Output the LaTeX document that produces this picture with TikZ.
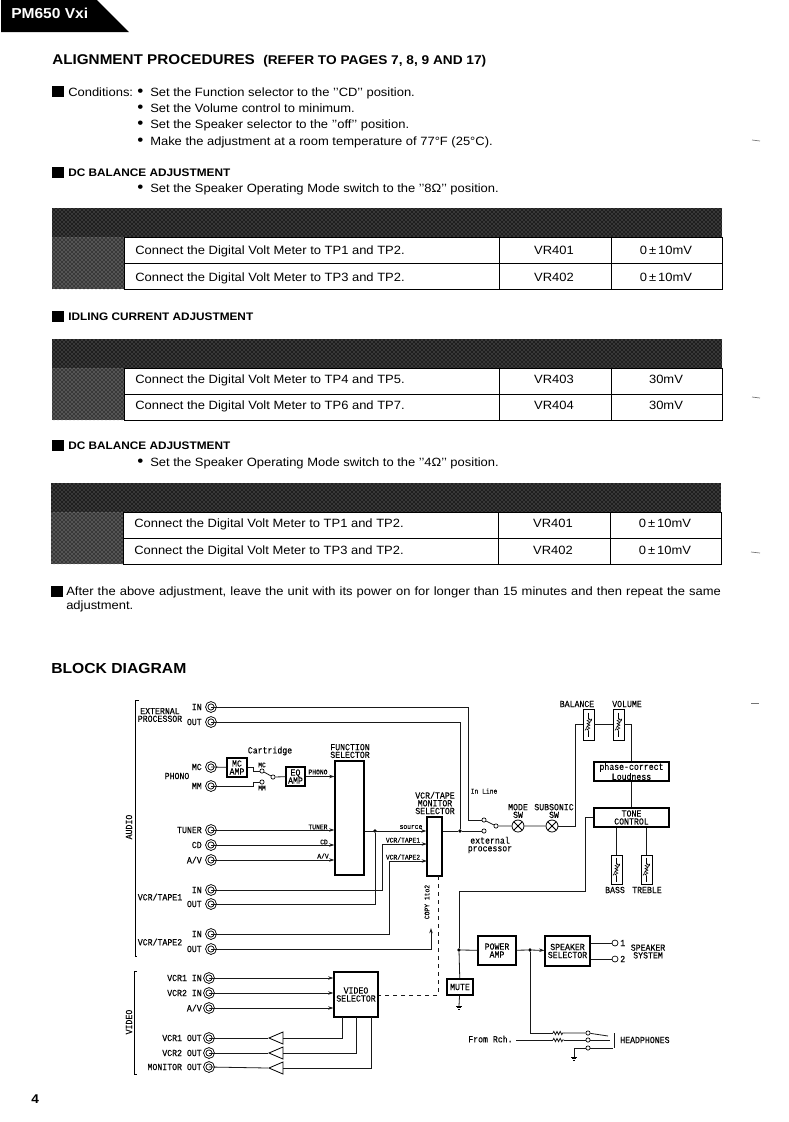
\documentclass[tikz,border=0pt]{standalone}
\usepackage{fontspec}
\setmainfont[FakeStretch=1.08]{Liberation Sans}
\setmonofont[FakeStretch=0.88, FakeBold=0.25]{Liberation Mono}
\usetikzlibrary{arrows.meta}
\usetikzlibrary{patterns}
\usetikzlibrary{shapes.geometric}
\usetikzlibrary{decorations.pathmorphing}
\tikzset{>={Stealth[length=4pt,width=2.6pt]}}
\tikzset{sized/.style 2 args={minimum width=#1*0.75pt, minimum height=#2*0.75pt, inner sep=0pt}}
\tikzset{blockbox/.style={draw, line width=0.8pt, font=\ttfamily\fontsize{7}{6}\selectfont, align=center}}
\tikzset{potbox/.style={draw, line width=0.6pt}}
\tikzset{jack/.style={circle, draw, double, double distance=0.9pt, line width=0.65pt, minimum size=6.4pt, inner sep=0pt}}
\tikzset{contact/.style={circle, draw, fill=white, line width=0.5pt, minimum size=3.2pt, inner sep=0pt}}
\tikzset{joint/.style={circle, fill, minimum size=2.8pt, inner sep=0pt}}
\tikzset{lampsw/.style={circle, draw, line width=0.6pt, minimum size=9pt, inner sep=0pt, path picture={
    \draw (path picture bounding box.south west) -- (path picture bounding box.north east)
          (path picture bounding box.north west) -- (path picture bounding box.south east);}}}
\tikzset{buffer/.style={isosceles triangle, draw, line width=0.6pt, shape border rotate=180, isosceles triangle stretches,
    minimum height=10.5pt, minimum width=9pt, inner sep=0pt}}
\tikzset{lbl/.style={font=\ttfamily\fontsize{7}{5.8}\selectfont, align=center, inner sep=0pt}}
\tikzset{tinylbl/.style={font=\ttfamily\fontsize{5.4}{5}\selectfont, inner sep=0pt}}
\tikzset{bodytext/.style={anchor=west, inner sep=0pt, text height=6.2pt, text depth=0pt, font=\fontsize{9}{11}\selectfont}}
\tikzset{subhead/.style={anchor=west, inner sep=0pt, text height=6pt, text depth=0pt, font=\bfseries\fontsize{8.2}{10}\selectfont}}
\tikzset{bighead/.style={anchor=west, inner sep=0pt, text height=8pt, text depth=0pt, font=\bfseries\fontsize{10.6}{13}\selectfont}}
\tikzset{cellnum/.style={inner sep=0pt, text height=6.2pt, text depth=0pt, font=\fontsize{9}{11}\selectfont}}
\tikzset{wire/.style={line width=0.6pt, black!90}}
\tikzset{scanmark/.style={line width=0.5pt, black!55}}
\newcommand{\dotitem}{\makebox[9.75pt][l]{\fontsize{12}{10}\selectfont\raisebox{-0.5pt}{\textbullet}}}
\newcommand{\potmark}[1]{
    \begin{scope}[shift={(#1.center)}, line width=0.4pt]
        \draw (0,-12) -- (0,-6) (0,6) -- (0,12);
        \draw[decorate, decoration={zigzag, amplitude=1.1pt, segment length=2.2pt}] (0,-6) -- (0,6);
        \draw[->, >={Stealth[length=2pt,width=1.6pt]}] (-3.5,6) -- (3.5,-6);
    \end{scope}}
\newcommand{\earthmark}[1]{
    \begin{scope}[shift={(#1)}, line width=0.5pt]
        \draw (-3,0) -- (3,0) (-2,1.5) -- (2,1.5) (-1,3) -- (1,3);
    \end{scope}}
\newcommand{\adjgrid}[2]{
    \begin{scope}[shift={(#1,#2)}]
        \fill[black!88] (52,0) rectangle (722,29);
        \fill[black!78] (52,29) rectangle (124,81);
        \fill[pattern=crosshatch dots, pattern color=black!45] (52,0) rectangle (722,29);
        \fill[pattern=crosshatch dots, pattern color=black!30] (52,29) rectangle (124,81);
        \draw[line width=0.5pt] (124,29) rectangle (722,81) (124,55) -- (722,55) (499,29) -- (499,81) (611,29) -- (611,81);
    \end{scope}}

\begin{document}
\begin{tikzpicture}[x=0.75pt, y=-0.75pt]
    \useasboundingbox (0,0) rectangle (789,1122);

    \fill (1,0) -- (97,0) -- (129,32) -- (1,32) -- cycle;
    \node[anchor=west, inner sep=0pt, text=white, font=\bfseries\fontsize{10.8}{12}\selectfont] at (11,13) (tab) {PM650 Vxi};
    \node[bighead] at (52,59) (title) {ALIGNMENT PROCEDURES};
    \node[subhead, font=\bfseries\fontsize{9.5}{10}\selectfont] at (263,60) (titleref) {(REFER TO PAGES 7, 8, 9 AND 17)};

    \fill (52,86) rectangle (64,97);
    \node[bodytext] at (68,92) (cond) {Conditions:};
    \node[bodytext] at (137,92) (condA) {\dotitem Set the Function selector to the '{}'CD'{}' position.};
    \node[bodytext] at (137,108) (condB) {\dotitem Set the Volume control to minimum.};
    \node[bodytext] at (137,124) (condC) {\dotitem Set the Speaker selector to the '{}'off'{}' position.};
    \node[bodytext] at (137,141) (condD) {\dotitem Make the adjustment at a room temperature of 77°F (25°C).};

    \fill (52,167) rectangle (64,178);
    \node[subhead] at (68,172) (headA) {DC BALANCE ADJUSTMENT};
    \node[bodytext] at (137,188) (modeA) {\dotitem Set the Speaker Operating Mode switch to the '{}'8Ω'{}' position.};

    \adjgrid{0}{208}
    \node[bodytext] at (135,250) (rowA) {Connect the Digital Volt Meter to TP1 and TP2.};
    \node[cellnum] at (554,250) (vrA) {VR401};
    \node[cellnum] at (666,250) (mvA) {0\,±\,10mV};
    \node[bodytext] at (135,277) (rowB) {Connect the Digital Volt Meter to TP3 and TP2.};
    \node[cellnum] at (554,277) (vrB) {VR402};
    \node[cellnum] at (666,277) (mvB) {0\,±\,10mV};

    \fill (52,311) rectangle (64,322);
    \node[subhead] at (68,316) (headB) {IDLING CURRENT ADJUSTMENT};

    \adjgrid{0}{339}
    \node[bodytext] at (135,379) (rowC) {Connect the Digital Volt Meter to TP4 and TP5.};
    \node[cellnum] at (554,379) (vrC) {VR403};
    \node[cellnum] at (666,379) (mvC) {30mV};
    \node[bodytext] at (135,405) (rowD) {Connect the Digital Volt Meter to TP6 and TP7.};
    \node[cellnum] at (554,405) (vrD) {VR404};
    \node[cellnum] at (666,405) (mvD) {30mV};

    \fill (52,440) rectangle (64,451);
    \node[subhead] at (68,445) (headC) {DC BALANCE ADJUSTMENT};
    \node[bodytext] at (137,462) (modeB) {\dotitem Set the Speaker Operating Mode switch to the '{}'4Ω'{}' position.};

    \adjgrid{-1}{483}
    \node[bodytext] at (134,523) (rowE) {Connect the Digital Volt Meter to TP1 and TP2.};
    \node[cellnum] at (553,523) (vrE) {VR401};
    \node[cellnum] at (665,523) (mvE) {0\,±\,10mV};
    \node[bodytext] at (134,550) (rowF) {Connect the Digital Volt Meter to TP3 and TP2.};
    \node[cellnum] at (553,550) (vrF) {VR402};
    \node[cellnum] at (665,550) (mvF) {0\,±\,10mV};

    \fill (51,586) rectangle (63,597);
    \node[anchor=west, inner sep=0pt, font=\fontsize{9}{10.6}\selectfont, text width=491pt, align=justify] at (66,599) (afterwards) {After the above adjustment, leave the unit with its power on for longer than 15 minutes and then repeat the same adjustment.};

    \node[bighead, font=\bfseries\fontsize{10.9}{13}\selectfont] at (51,668) (blockhead) {BLOCK DIAGRAM};
    \node[anchor=west, inner sep=0pt, font=\bfseries\fontsize{9.5}{11}\selectfont] at (31,1099) (pageno) {4};

    \draw[scanmark] (752,140) -- (760,141);
    \draw[scanmark] (752,397) -- (760,398);
    \draw[scanmark] (751,552) -- (760,553);
    \draw[scanmark] (751,703) -- (759,703);

    \draw[line width=0.5pt] (139,700) -- (135,700) -- (135,956) -- (137,956);
    \draw[line width=0.5pt] (137,971) -- (134,971) -- (134,1074) -- (137,1074);
    \node[lbl, rotate=90] at (129,827) (audio) {AUDIO};
    \node[lbl, rotate=90] at (129,1022) (video) {VIDEO};

    \node[lbl] at (160,715) (extproc) {EXTERNAL\\PROCESSOR};
    \node[lbl] at (177,776) (phono) {PHONO};
    \node[lbl] at (160,897) (tapeA) {VCR/TAPE1};
    \node[lbl] at (160,942) (tapeB) {VCR/TAPE2};

    \node[jack] at (211,707) (jExtIn) {};
    \node[jack] at (211,722) (jExtOut) {};
    \node[jack] at (211,767) (jMc) {};
    \node[jack] at (211,786) (jMm) {};
    \node[jack] at (211,830) (jTuner) {};
    \node[jack] at (211,845) (jCd) {};
    \node[jack] at (211,860) (jAv) {};
    \node[jack] at (211,890) (jTapeAin) {};
    \node[jack] at (211,904) (jTapeAout) {};
    \node[jack] at (211,934) (jTapeBin) {};
    \node[jack] at (211,949) (jTapeBout) {};
    \node[jack] at (209,978) (jVcrAin) {};
    \node[jack] at (209,993) (jVcrBin) {};
    \node[jack] at (209,1008) (jVidAv) {};
    \node[jack] at (209,1038) (jVcrAout) {};
    \node[jack] at (209,1053) (jVcrBout) {};
    \node[jack] at (209,1067) (jMonOut) {};

    \node[lbl, anchor=east] at (202,707) (tExtIn) {IN};
    \node[lbl, anchor=east] at (202,722) (tExtOut) {OUT};
    \node[lbl, anchor=east] at (202,767) (tMc) {MC};
    \node[lbl, anchor=east] at (202,786) (tMm) {MM};
    \node[lbl, anchor=east] at (202,830) (tTuner) {TUNER};
    \node[lbl, anchor=east] at (202,845) (tCd) {CD};
    \node[lbl, anchor=east] at (202,860) (tAv) {A/V};
    \node[lbl, anchor=east] at (202,890) (tTapeAin) {IN};
    \node[lbl, anchor=east] at (202,904) (tTapeAout) {OUT};
    \node[lbl, anchor=east] at (202,934) (tTapeBin) {IN};
    \node[lbl, anchor=east] at (202,949) (tTapeBout) {OUT};
    \node[lbl, anchor=east] at (202,978) (tVcrAin) {VCR1 IN};
    \node[lbl, anchor=east] at (202,993) (tVcrBin) {VCR2 IN};
    \node[lbl, anchor=east] at (202,1008) (tVidAv) {A/V};
    \node[lbl, anchor=east] at (202,1038) (tVcrAout) {VCR1 OUT};
    \node[lbl, anchor=east] at (202,1053) (tVcrBout) {VCR2 OUT};
    \node[lbl, anchor=east] at (202,1067) (tMonOut) {MONITOR OUT};

    \node[blockbox, sized={20}{19}] at (237,767.5) (mcamp) {MC\\AMP};
    \node[blockbox, sized={19}{19}] at (295.5,776.5) (eqamp) {EQ\\AMP};
    \node[blockbox, sized={29}{114}] at (349.5,818) (funcsel) {};
    \node[blockbox, sized={15}{59}] at (434.5,846.5) (monsel) {};
    \node[blockbox, sized={44}{45}] at (356,994.5) (vidsel) {VIDEO\\SELECTOR};
    \node[blockbox, sized={75}{19}] at (631.5,771.5) (loudness) {phase-correct\\Loudness};
    \node[blockbox, sized={75}{19}] at (631.5,817.5) (tone) {TONE\\CONTROL};
    \node[blockbox, sized={38}{29}] at (497,950.5) (poweramp) {POWER\\AMP};
    \node[blockbox, sized={45}{30}] at (567.5,951) (spksel) {SPEAKER\\SELECTOR};
    \node[blockbox, sized={26}{16}] at (460,987) (mute) {MUTE};
    \node[potbox, sized={11}{31}] at (588.5,724.5) (balance) {};
    \node[potbox, sized={11}{31}] at (618.5,724.5) (volume) {};
    \node[potbox, sized={11}{29}] at (616.5,869.5) (bass) {};
    \node[potbox, sized={11}{29}] at (646.5,869.5) (treble) {};
    \potmark{balance}
    \potmark{volume}
    \potmark{bass}
    \potmark{treble}

    \node[lbl] at (270,751) (cartridge) {Cartridge};
    \node[lbl] at (350,751) (tFuncsel) {FUNCTION\\SELECTOR};
    \node[lbl] at (435,803) (tMonsel) {VCR/TAPE\\MONITOR\\SELECTOR};
    \node[tinylbl] at (484,791) (inline) {In Line};
    \node[lbl] at (518,811) (tMode) {MODE\\SW};
    \node[lbl] at (554,811) (tSub) {SUBSONIC\\SW};
    \node[lbl] at (490,845) (tExtern) {external\\processor};
    \node[lbl] at (577,704) (tBalance) {BALANCE};
    \node[lbl] at (627,704) (tVolume) {VOLUME};
    \node[lbl] at (615,890) (tBass) {BASS};
    \node[lbl] at (647,890) (tTreble) {TREBLE};
    \node[lbl] at (648,951.5) (tSystem) {SPEAKER\\SYSTEM};
    \node[lbl, anchor=west] at (468,1039) (rch) {From Rch.};
    \node[lbl, anchor=west] at (620,1040) (phones) {HEADPHONES};
    \node[tinylbl] at (262,765) (tCmc) {MC};
    \node[tinylbl] at (262,788) (tCmm) {MM};
    \node[tinylbl] at (318,772) (tPhono) {PHONO};
    \node[tinylbl] at (318,827) (tTuneIn) {TUNER};
    \node[tinylbl] at (324,842) (tCdIn) {CD};
    \node[tinylbl] at (323,856) (tAvIn) {A/V};
    \node[tinylbl] at (411,827) (tSource) {source};
    \node[tinylbl] at (403,840) (tVcrA) {VCR/TAPE1};
    \node[tinylbl] at (403,857) (tVcrB) {VCR/TAPE2};
    \node[tinylbl, rotate=90] at (427,902) (tCopy) {COPY 1to2};

    \node[contact] at (262,771) (cMc) {};
    \node[contact] at (262,782) (cMm) {};
    \node[contact] at (273,777) (cPhono) {};
    \node[contact] at (484,820) (cLine) {};
    \node[contact] at (484,831) (cExt) {};
    \node[contact] at (496,826) (cPole) {};
    \node[lampsw] at (518,826) (modesw) {};
    \node[lampsw] at (552,826) (subsw) {};
    \node[joint] at (460,831) (dotExt) {};
    \node[joint] at (375,831) (dotTape) {};
    \node[joint] at (459,950) (dotPower) {};
    \node[joint] at (530,950) (dotPhones) {};
    \node[contact, minimum size=4.5pt] at (615,943) (spkA) {};
    \node[contact, minimum size=4.5pt] at (615,959) (spkB) {};
    \node[lbl, anchor=west] at (620,943) (tSpkA) {1};
    \node[lbl, anchor=west] at (620,959) (tSpkB) {2};
    \node[buffer] at (279,1038) (bufA) {};
    \node[buffer] at (279,1053) (bufB) {};
    \node[buffer] at (279,1068) (bufC) {};
    \node[contact] at (588,1033) (phA) {};
    \node[contact] at (588,1040) (phB) {};
    \node[contact] at (588,1048) (phC) {};

    \coordinate (inTurn) at (468,820);
    \coordinate (balTurn) at (575,724.5);
    \coordinate (toneTurn) at (585,891);
    \coordinate (mcTurn) at (253,771);
    \coordinate (mmTurn) at (253,782);
    \coordinate (tapeAup) at (382,890);
    \coordinate (tapeBup) at (389,934);
    \coordinate (tapeBend) at (431,949);
    \coordinate (copyTip) at (431,928);
    \coordinate (dashDown) at (438,995);
    \coordinate (dashTop) at (438,876);
    \coordinate (tapeArr) at (427,844);
    \coordinate (tapeBrr) at (427,861);
    \coordinate (vidA) at (342,1017);
    \coordinate (vidB) at (356,1017);
    \coordinate (vidC) at (371,1017);
    \coordinate (earthA) at (459,1006);
    \coordinate (earthB) at (574,1057);
    \coordinate (rchStart) at (516,1040);
    \coordinate (resAa) at (553,1033);
    \coordinate (resAb) at (564,1033);
    \coordinate (resBa) at (553,1040);
    \coordinate (resBb) at (564,1040);
    \coordinate (tipA) at (608,1036);
    \coordinate (tipB) at (610,1040);
    \coordinate (tipC) at (613,1048);
    \coordinate (barTop) at (615,1033);
    \coordinate (barEnd) at (615,1048);

    \begin{scope}[wire]
        \draw (jExtIn.center) -| (inTurn) -- (cLine);
        \draw (jExtOut.center) -| (dotExt);
        \draw (monsel.east |- dotExt) -- (dotExt) -- (cExt);
        \draw (cLine) -- (cPole) -- (modesw) -- (subsw);
        \draw (subsw) -| (balTurn) -- (balance);
        \draw (balance) -- (volume);
        \draw (volume) -| (loudness);
        \draw (loudness) -- (tone);
        \draw (tone.south -| bass) -- (bass);
        \draw (tone.south -| treble) -- (treble);
        \draw (tone) -| (toneTurn) -| (dotPower);
        \draw (dotPower) -- (mute);
        \draw (mute) -- (earthA);
        \draw (dotPower) -- (poweramp);
        \draw (poweramp) -- (dotPhones);
        \draw[->] (dotPhones) -- (spksel);
        \draw (spksel.east |- spkA) -- (spkA);
        \draw (spksel.east |- spkB) -- (spkB);
        \draw (jMc.center) -- (mcamp);
        \draw (mcamp) -| (mcTurn) -- (cMc);
        \draw (jMm.center) -| (mmTurn) -- (cMm);
        \draw (cMc) -- (cPhono) -- (eqamp);
        \draw[->] (eqamp) -- (funcsel.west |- eqamp);
        \draw[->] (jTuner.center) -- (funcsel.west |- jTuner);
        \draw[->] (jCd.center) -- (funcsel.west |- jCd);
        \draw[->] (jAv.center) -- (funcsel.west |- jAv);
        \draw[->] (funcsel.east |- dotTape) -- (monsel.west |- dotTape);
        \draw (dotTape) |- (jTapeAout.center);
        \draw[->] (jTapeAin.center) -- (tapeAup) |- (tapeArr);
        \draw[->] (jTapeBin.center) -- (tapeBup) |- (tapeBrr);
        \draw[->] (jTapeBout.center) -- (tapeBend) -- (copyTip);
        \draw[dashed] (dashTop) -- (dashDown) -- (vidsel.east |- dashDown);
        \draw[->] (jVcrAin.center) -- (vidsel.west |- jVcrAin);
        \draw[->] (jVcrBin.center) -- (vidsel.west |- jVcrBin);
        \draw[->] (jVidAv.center) -- (vidsel.west |- jVidAv);
        \draw (vidA) |- (bufA.lower side);
        \draw (vidB) |- (bufB.lower side);
        \draw (vidC) |- (bufC.lower side);
        \draw (bufA.apex) -- (jVcrAout.center);
        \draw (bufB.apex) -- (jVcrBout.center);
        \draw (bufC.apex) -- (jMonOut.center);
        \draw (dotPhones) |- (resAa);
        \draw[decorate, decoration={zigzag, amplitude=1.2pt, segment length=2.4pt}] (resAa) -- (resAb);
        \draw (resAb) -- (phA) -- (tipA);
        \draw (rchStart) -- (resBa);
        \draw[decorate, decoration={zigzag, amplitude=1.2pt, segment length=2.4pt}] (resBa) -- (resBb);
        \draw (resBb) -- (phB) -- (tipB);
        \draw (earthB) |- (phC);
        \draw (phC) -- (tipC);
        \draw[double, double distance=0.5pt, line width=0.5pt] (barTop) -- (barEnd);
    \end{scope}
    \earthmark{earthA}
    \earthmark{earthB}
\end{tikzpicture}
\end{document}
